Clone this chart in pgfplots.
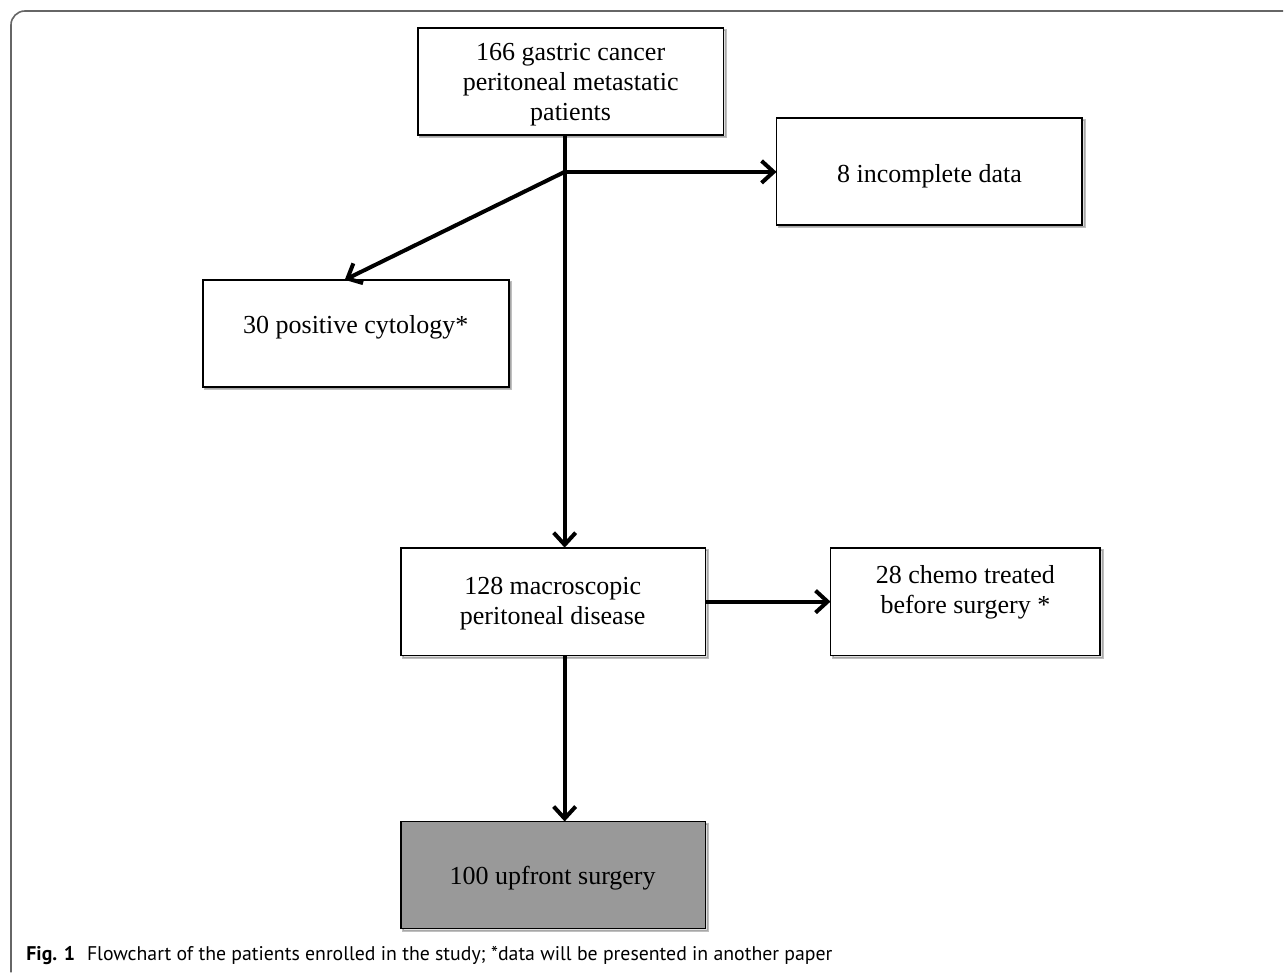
\documentclass[border=0pt]{standalone}
\usepackage{pgfplots}
\pgfplotsset{compat=1.18}
\usepackage{fontspec}
\setmainfont{Liberation Serif}
\newfontfamily\capfont{PT Sans}
\usetikzlibrary{arrows.meta,shadows}

\begin{document}
\begin{tikzpicture}
\begin{axis}[
    width=642pt, height=488.5pt,
    scale only axis,
    xmin=0, xmax=1284,
    ymin=0, ymax=977,
    y dir=reverse,
    hide axis,
    clip=false,
]
% fixes the page to the full area
\addplot[draw=none, fill=white, forget plot] coordinates {(0,0) (1284,0) (1284,977) (0,977)} -- cycle;

% outer frame
\addplot[draw=black!60, line width=0.8pt, rounded corners=7pt] coordinates {(11,973) (11,11) (1284,11)};

% boxes
\pgfplotsset{box/.style={draw=black, line width=0.9pt, fill=white,
    drop shadow={shadow xshift=1.2pt, shadow yshift=-1.2pt, opacity=0.25}}}
\addplot[box] coordinates {(418,28) (724,28) (724,135) (418,135)} -- cycle;
\addplot[box] coordinates {(777,118) (1083,118) (1083,225) (777,225)} -- cycle;
\addplot[box] coordinates {(203,280) (509,280) (509,387) (203,387)} -- cycle;
\addplot[box] coordinates {(401,548) (706,548) (706,656) (401,656)} -- cycle;
\addplot[box] coordinates {(831,548) (1101,548) (1101,656) (831,656)} -- cycle;
\addplot[box, fill=black!40] coordinates {(401,822) (706,822) (706,929) (401,929)} -- cycle;

% arrows
\pgfplotsset{arr/.style={black, line width=2pt, -{Straight Barb[length=6pt,width=11pt]}}}
\addplot[arr] coordinates {(565,135) (565,548)};
\addplot[arr] coordinates {(563,172) (777,172)};
\addplot[arr] coordinates {(565,172) (345,280)};
\addplot[arr] coordinates {(706,602) (831,602)};
\addplot[arr] coordinates {(565,656) (565,822)};

% texts
\tikzset{lbl/.style={font=\fontsize{13}{15}\selectfont, align=center, inner sep=0pt}}
\node[lbl] at (axis cs:571,85) {166 gastric cancer\\peritoneal metastatic\\patients};
\node[lbl] at (axis cs:930,176) {8 incomplete data};
\node[lbl] at (axis cs:356,327) {30 positive cytology*};
\node[lbl] at (axis cs:553,604) {128 macroscopic\\peritoneal disease};
\node[lbl] at (axis cs:966,593) {28 chemo treated\\before surgery *};
\node[lbl] at (axis cs:553,879) {100 upfront surgery};

\node[anchor=west, inner sep=0pt, font=\capfont\fontsize{9.9}{12}\selectfont] at (axis cs:26,956)
  {\textbf{Fig. 1}\hspace{0.6em}Flowchart of the patients enrolled in the study; *data will be presented in another paper};
\end{axis}
\end{tikzpicture}
\end{document}
